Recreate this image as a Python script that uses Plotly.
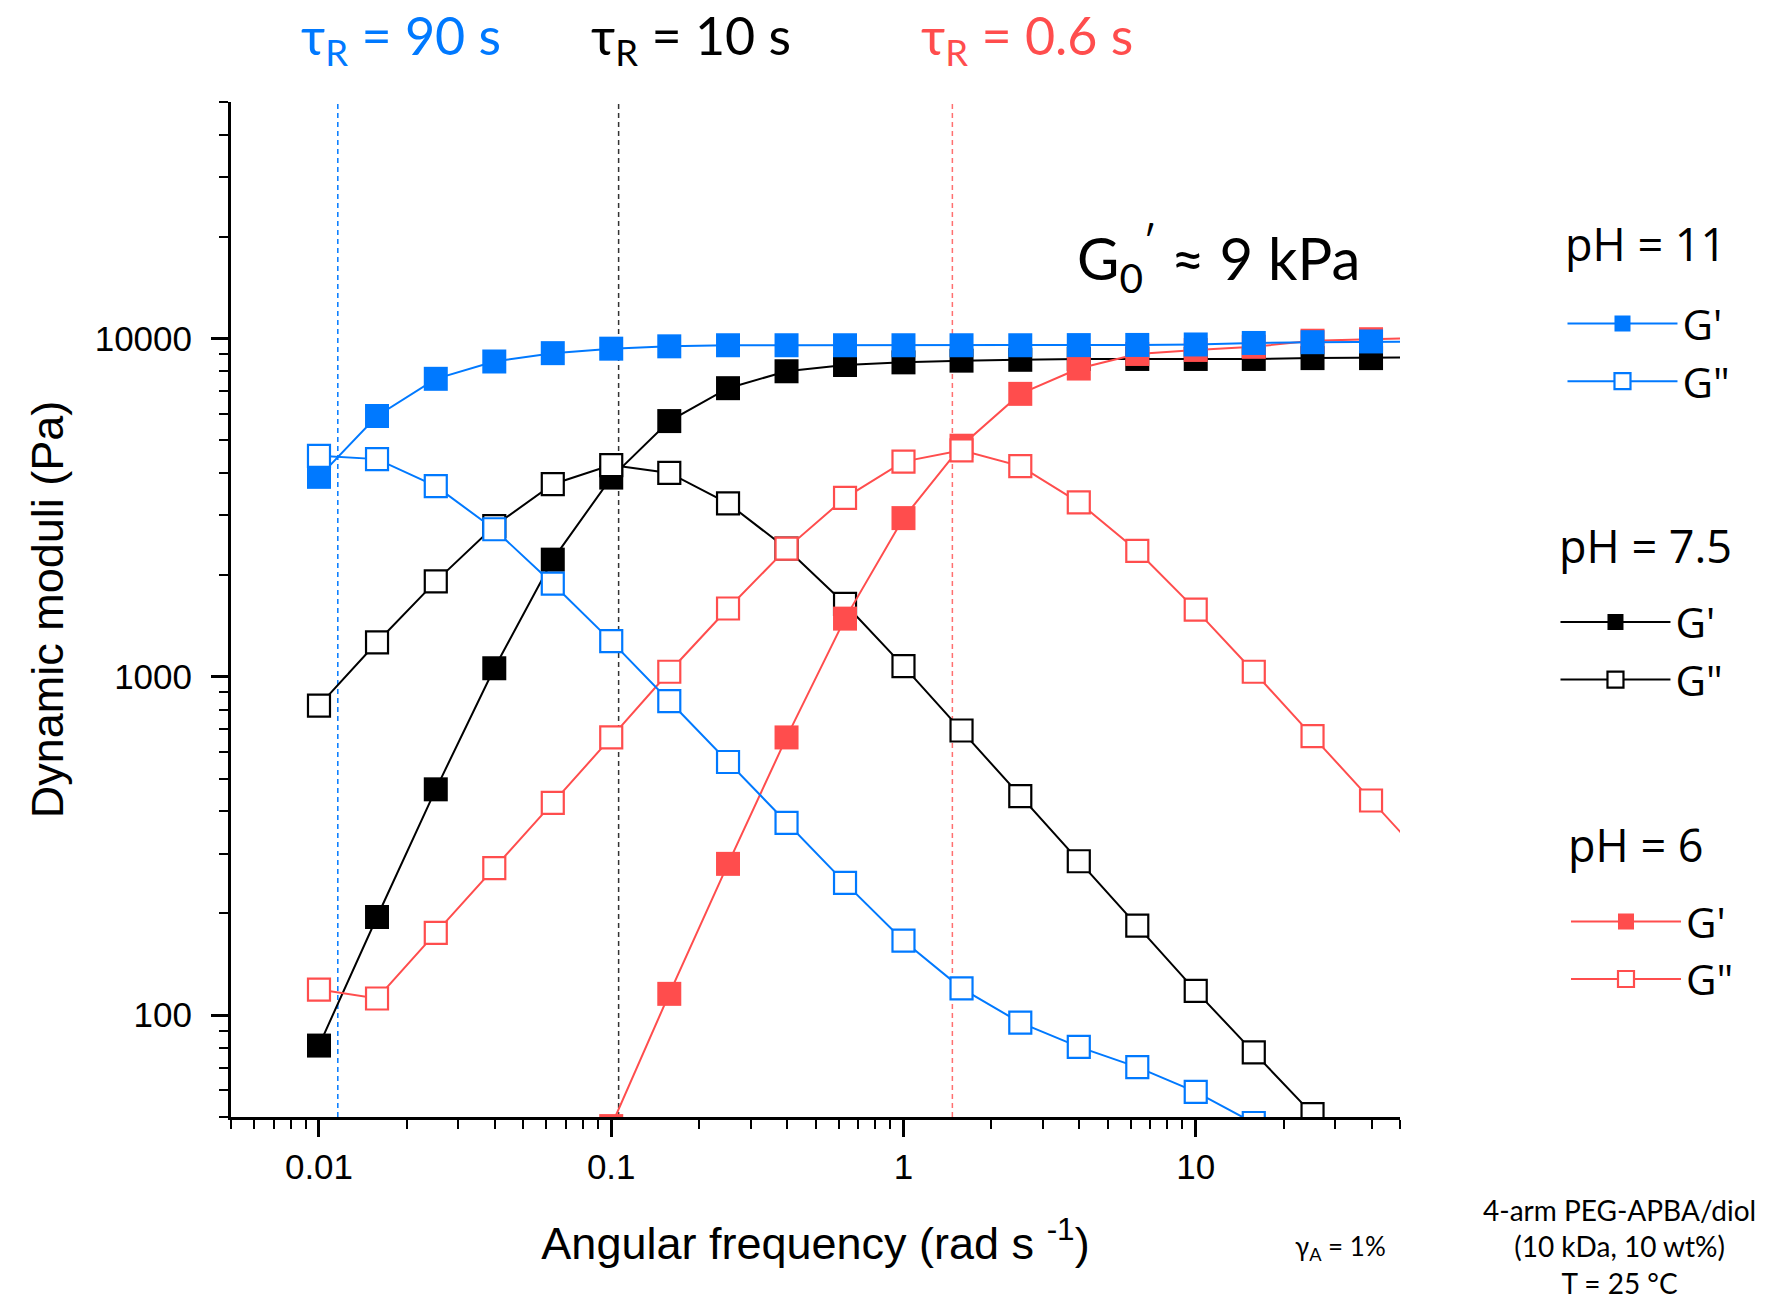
import plotly.graph_objects as go
import math

# ---------------- data ----------------
freq = [0.01, 0.0158, 0.0251, 0.0398, 0.0631, 0.1, 0.158, 0.251, 0.398, 0.631,
        1.0, 1.58, 2.51, 3.98, 6.31, 10.0, 15.8, 25.1, 39.8, 63.1]

# pH = 11
gp_ph11 = [3900, 5900, 7600, 8550, 9050, 9330, 9480, 9550, 9550, 9550,
           9550, 9550, 9550, 9560, 9570, 9600, 9700, 9750, 9800, 9800]
gpp_ph11 = [4500, 4400, 3660, 2730, 1885, 1275, 848, 560, 370, 246,
            166, 120, 95, 80.6, 70.2, 59.3, 48]

# pH = 7.5
gp_ph75 = [81.3, 195, 465, 1060, 2220, 3880, 5700, 7130, 8000, 8350,
           8500, 8600, 8650, 8700, 8700, 8700, 8700, 8750, 8750, 8800]
gpp_ph75 = [822, 1265, 1915, 2790, 3710, 4225, 4005, 3255, 2395, 1642,
            1076, 694, 444, 285, 184, 118, 77.6, 51]

# pH = 6 (G' starts at 0.1 rad/s)
gp_ph6_freq = freq[5:]
gp_ph6 = [47, 115.6, 280, 662, 1486, 2945, 4820, 6860, 8150, 9000,
          9250, 9450, 9850, 9950, 10050]
gpp_ph6 = [119, 112, 175, 272, 424, 662, 1035, 1592, 2393, 3380,
           4325, 4670, 4195, 3280, 2357, 1580, 1035, 668, 431, 280]

# crossover frequencies (dashed guides) and their labels
crossover_freq = [0.0116, 0.106, 1.47]
tau_labels = ["τ<sub>R</sub> = 90 s", "τ<sub>R</sub> = 10 s", "τ<sub>R</sub> = 0.6 s"]

x_range = [0.005, 50]
y_range = [50, 50000]
x_tickvals = [0.01, 0.1, 1, 10]
x_ticktext = ["0.01", "0.1", "1", "10"]
y_tickvals = [100, 1000, 10000]
y_ticktext = ["100", "1000", "10000"]

BLUE = "#0079FF"
BLACK = "#000000"
RED = "#FF4D4D"
GUIDE_COLORS = [BLUE, "#333333", "#FF7070"]

fig = go.Figure()

# dashed guide lines
for xv, col in zip(crossover_freq, GUIDE_COLORS):
    fig.add_trace(go.Scatter(x=[xv, xv], y=y_range, mode="lines",
                             line=dict(color=col, width=1.5, dash="5px,4px"),
                             showlegend=False, hoverinfo="skip"))

MS = 24


def add_pair(xf, yf, xo, yo, color, legend):
    fig.add_trace(go.Scatter(
        x=xf, y=yf, mode="lines+markers", name="G'",
        line=dict(color=color, width=2),
        marker=dict(symbol="square", size=MS, color=color, line=dict(width=0)),
        legend=legend))
    fig.add_trace(go.Scatter(
        x=xo, y=yo, mode="lines+markers", name='G"',
        line=dict(color=color, width=2),
        marker=dict(symbol="square", size=MS - 2, color="white",
                    line=dict(width=2.2, color=color)),
        legend=legend))


add_pair(freq, gp_ph75, freq[:len(gpp_ph75)], gpp_ph75, BLACK, "legend2")
add_pair(gp_ph6_freq, gp_ph6, freq[:len(gpp_ph6)], gpp_ph6, RED, "legend3")
add_pair(freq, gp_ph11, freq[:len(gpp_ph11)], gpp_ph11, BLUE, "legend")

FONT_AX = "Liberation Sans, Arial, sans-serif"
axis_font = dict(family=FONT_AX, size=35, color="black")

fig.update_xaxes(
    type="log", range=[math.log10(v) for v in x_range],
    showline=True, linewidth=3, linecolor="black", mirror=False,
    showgrid=False, zeroline=False,
    tickmode="array", tickvals=x_tickvals, ticktext=x_ticktext,
    ticks="outside", ticklen=17, tickwidth=3, tickcolor="black",
    ticklabelstandoff=0,
    minor=dict(ticks="outside", ticklen=9, tickwidth=2, tickcolor="black",
               dtick="D1", showgrid=False),
    tickfont=axis_font,
    title=dict(text="Angular frequency (rad s <sup>-1</sup>)",
               font=dict(family=FONT_AX, size=45, color="black"),
               standoff=43),
)
fig.update_yaxes(
    type="log", range=[math.log10(v) for v in y_range],
    showline=True, linewidth=3, linecolor="black", mirror=False,
    showgrid=False, zeroline=False,
    tickmode="array", tickvals=y_tickvals, ticktext=y_ticktext,
    ticks="outside", ticklen=17, tickwidth=3, tickcolor="black",
    ticklabelstandoff=12,
    minor=dict(ticks="outside", ticklen=9, tickwidth=2, tickcolor="black",
               dtick="D1", showgrid=False),
    tickfont=axis_font,
    title=dict(text="Dynamic moduli (Pa)",
               font=dict(family=FONT_AX, size=45, color="black"),
               standoff=17),
)

leg_common = dict(font=dict(family="Open Sans, sans-serif", size=42, color="black"),
                  bgcolor="rgba(0,0,0,0)", borderwidth=0, itemwidth=110,
                  xanchor="left", yanchor="top", tracegroupgap=0,
                  itemsizing="trace")
fig.update_layout(
    width=1773, height=1303,
    paper_bgcolor="white", plot_bgcolor="white",
    margin=dict(l=231, r=373, t=102, b=186, autoexpand=False),
    legend=dict(x=1.139, y=0.815, **leg_common),
    legend2=dict(x=1.133, y=0.521, **leg_common),
    legend3=dict(x=1.142, y=0.226, **leg_common),
)

ann = []
tau_x = [0.1454, 0.3935, 0.681]
for t, xp, col in zip(tau_labels, tau_x, [BLUE, BLACK, RED]):
    ann.append(dict(text=t, x=xp, y=1.062, xref="paper", yref="paper",
                    xanchor="center", yanchor="middle", showarrow=False,
                    font=dict(family="Lato, sans-serif", size=52, color=col)))
ann.append(dict(text="G<sub>0</sub><sup>′</sup> ≈ 9 kPa", x=0.845, y=0.845,
                xref="paper", yref="paper", xanchor="center", yanchor="middle",
                showarrow=False, font=dict(family="Lato, sans-serif", size=58, color="black")))
for txt, yp, xp in [("pH = 11", 0.861, 1.2104), ("pH = 7.5", 0.5626, 1.2104), ("pH = 6", 0.268, 1.202)]:
    ann.append(dict(text=txt, x=xp, y=yp, xref="paper", yref="paper",
                    xanchor="center", yanchor="middle", showarrow=False,
                    font=dict(family="Open Sans, sans-serif", size=45, color="black")))
ann.append(dict(text="γ<sub>A</sub> = 1%", x=0.9495, y=-0.129, xref="paper", yref="paper",
                xanchor="center", yanchor="middle", showarrow=False,
                font=dict(family="Lato, sans-serif", size=26, color="black")))
ann.append(dict(text="4-arm PEG-APBA/diol<br>(10 kDa, 10 wt%)<br>T = 25 °C",
                x=1.188, y=-0.128, xref="paper", yref="paper", align="center",
                xanchor="center", yanchor="middle", showarrow=False,
                font=dict(family="Lato, sans-serif", size=28, color="black")))
fig.update_layout(annotations=ann)

fig.write_html("out.html")
